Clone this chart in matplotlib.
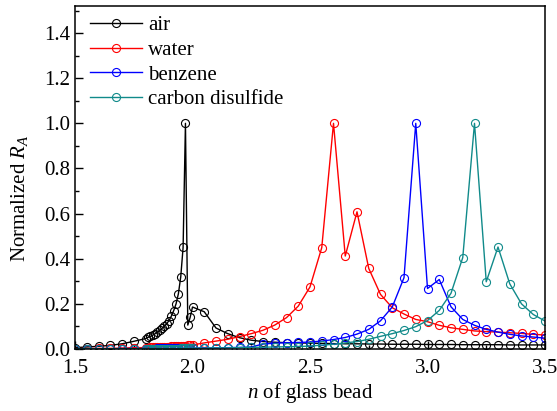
import matplotlib
matplotlib.use("Agg")
import matplotlib.pyplot as plt
from matplotlib.ticker import MultipleLocator, FormatStrFormatter

plt.rcParams['font.family'] = ['Liberation Serif', 'DejaVu Serif']
plt.rcParams['mathtext.fontset'] = 'custom'
plt.rcParams['mathtext.rm'] = 'Liberation Serif'
plt.rcParams['mathtext.it'] = 'Liberation Serif:italic'

n_vals = [1.50, 1.55, 1.60, 1.65, 1.70, 1.75,
          1.80, 1.81, 1.82, 1.83, 1.84, 1.85, 1.86, 1.87, 1.88, 1.89,
          1.90, 1.91, 1.92, 1.93, 1.94, 1.95, 1.96, 1.97, 1.98, 1.99,
          2.00, 2.05, 2.10, 2.15, 2.20, 2.25, 2.30, 2.35, 2.40, 2.45,
          2.50, 2.55, 2.60, 2.65, 2.70, 2.75, 2.80, 2.85, 2.90, 2.95,
          3.00, 3.05, 3.10, 3.15, 3.20, 3.25, 3.30, 3.35, 3.40, 3.45, 3.50]

air = [0.006, 0.009, 0.012, 0.016, 0.023, 0.034,
       0.046, 0.051, 0.056, 0.061, 0.067, 0.074, 0.082, 0.091, 0.101, 0.112,
       0.126, 0.146, 0.170, 0.200, 0.245, 0.320, 0.450, 1.000, 0.106, 0.140,
       0.186, 0.165, 0.093, 0.068, 0.050, 0.039, 0.033, 0.030, 0.028, 0.027,
       0.026, 0.025, 0.024, 0.023, 0.023, 0.022, 0.022, 0.021, 0.021, 0.021,
       0.020, 0.020, 0.020, 0.019, 0.019, 0.019, 0.019, 0.018, 0.018, 0.018, 0.018]

water = [0.002, 0.002, 0.003, 0.003, 0.004, 0.006,
         0.006, 0.0065, 0.007, 0.0075, 0.008, 0.0085, 0.009, 0.0095, 0.010, 0.0105,
         0.011, 0.0115, 0.012, 0.0125, 0.013, 0.014, 0.0145, 0.015, 0.016, 0.017,
         0.018, 0.027, 0.035, 0.043, 0.055, 0.068, 0.083, 0.106, 0.139, 0.190,
         0.275, 0.449, 1.000, 0.412, 0.608, 0.357, 0.242, 0.183, 0.155, 0.131,
         0.121, 0.105, 0.094, 0.087, 0.080, 0.077, 0.075, 0.072, 0.069, 0.065, 0.062]

benzene = [0.001, 0.001, 0.001, 0.001, 0.002, 0.002,
           0.002, 0.002, 0.002, 0.002, 0.002, 0.003, 0.003, 0.003, 0.003, 0.003,
           0.003, 0.003, 0.003, 0.003, 0.004, 0.004, 0.004, 0.004, 0.004, 0.004,
           0.004, 0.005, 0.005, 0.006, 0.007, 0.009, 0.022, 0.026, 0.028, 0.029,
           0.031, 0.035, 0.042, 0.051, 0.066, 0.087, 0.125, 0.186, 0.316, 1.000,
           0.268, 0.308, 0.187, 0.131, 0.105, 0.087, 0.075, 0.065, 0.058, 0.053, 0.048]

cs2 = [0.001, 0.001, 0.001, 0.001, 0.001, 0.001,
       0.002, 0.002, 0.002, 0.002, 0.002, 0.002, 0.002, 0.002, 0.002, 0.002,
       0.002, 0.002, 0.002, 0.002, 0.002, 0.003, 0.003, 0.003, 0.003, 0.003,
       0.003, 0.004, 0.005, 0.005, 0.006, 0.007, 0.008, 0.009, 0.010, 0.011,
       0.013, 0.017, 0.021, 0.027, 0.033, 0.043, 0.056, 0.068, 0.082, 0.099,
       0.126, 0.171, 0.247, 0.405, 1.000, 0.298, 0.452, 0.289, 0.200, 0.153, 0.124]

labels = ['air', 'water', 'benzene', 'carbon disulfide']
colors = ['#000000', '#ff0000', '#0000ff', '#108a8a']
series = [air, water, benzene, cs2]

fig = plt.figure(figsize=(5.57, 4.11), dpi=100)
ax = fig.add_axes([75/557, 1-349/411, 470/557, 343/411])

for lab, col, ys in zip(labels, colors, series):
    ax.plot(n_vals, ys, '-', color=col, lw=1.0, marker='o', markersize=5.8,
            markerfacecolor='none', markeredgecolor=col, markeredgewidth=0.8,
            label=lab)

ax.set_xlim(1.5, 3.5)
ax.set_ylim(0, 1.52)
ax.xaxis.set_major_locator(MultipleLocator(0.5))
ax.xaxis.set_minor_locator(MultipleLocator(0.25))
ax.yaxis.set_major_locator(MultipleLocator(0.2))
ax.yaxis.set_minor_locator(MultipleLocator(0.1))
ax.xaxis.set_major_formatter(FormatStrFormatter('%.1f'))
ax.yaxis.set_major_formatter(FormatStrFormatter('%.1f'))
ax.tick_params(which='both', direction='in', top=False, right=False,
               labelsize=15, width=1.0)
ax.tick_params(axis='x', which='major', pad=7)
ax.tick_params(which='major', length=5.5)
ax.tick_params(which='minor', length=3)
for s in ax.spines.values():
    s.set_linewidth(1.1)

ax.set_xlabel('$n$ of glass bead', fontsize=15, labelpad=2)
ax.set_ylabel('Normalized $R_A$', fontsize=15)
ax.yaxis.set_label_coords(-0.096, 0.44)

ax.legend(loc='upper left', frameon=False, fontsize=15, handlelength=2.5,
          handletextpad=0.3, labelspacing=0.25, borderaxespad=0.3,
          bbox_to_anchor=(0.0, 1.015))

fig.savefig('out.png', dpi=100)
